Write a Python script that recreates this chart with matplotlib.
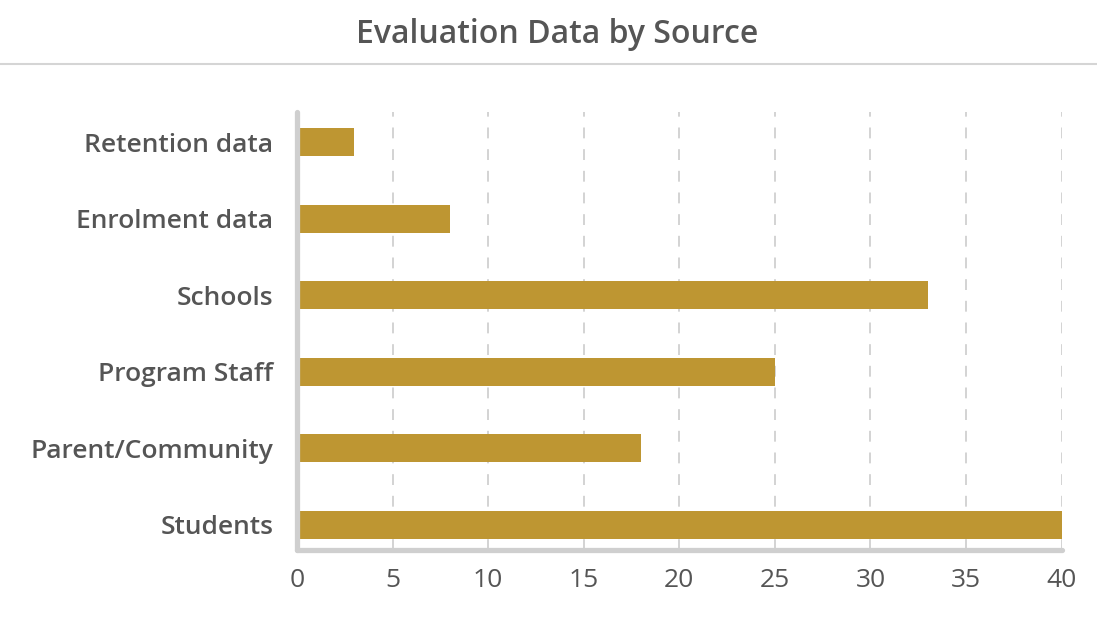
import numpy as np
import matplotlib.pyplot as plt
from matplotlib.lines import Line2D

# evaluation sources, listed top to bottom
sources = ['Retention data', 'Enrolment data', 'Schools', 'Program Staff',
           'Parent/Community', 'Students']
counts = [3, 8, 33, 25, 18, 40]
xticks = [0, 5, 10, 15, 20, 25, 30, 35, 40]

plt.rcParams['font.family'] = ['Open Sans', 'DejaVu Sans']

fig = plt.figure(figsize=(10.97, 6.19), dpi=100)
ax = fig.add_axes([0.2707, 0.1115, 0.697, 0.708])

# bottom category at y=0
ypos = np.arange(len(sources))[::-1]
ax.barh(ypos, counts, height=0.37, color='#BE9632', zorder=3)

ax.set_xlim(0, 40)
ax.set_ylim(-0.33, 5.4)
ax.set_xticks(xticks)
ax.set_yticks(ypos)
ax.set_yticklabels(sources)
ax.tick_params(axis='both', length=0, colors='#555555', labelsize=19)
ax.tick_params(axis='y', pad=17)
ax.tick_params(axis='x', pad=13)
for lbl in ax.get_yticklabels():
    lbl.set_fontweight('semibold')

# dashed vertical grid
ax.grid(axis='x', color='#d0d0d0', linestyle=(0, (6, 6)), linewidth=1.3, zorder=0)
ax.grid(axis='y', visible=False)

for s in ax.spines.values():
    s.set_visible(False)
for s in ('left', 'bottom'):
    ax.spines[s].set_visible(True)
    ax.spines[s].set_color('#cfcfcf')
    ax.spines[s].set_linewidth(3.8)
    ax.spines[s].set_capstyle('round')
    ax.spines[s].set_zorder(4)

# title and rule under it
fig.text(0.508, 0.945, 'Evaluation Data by Source', ha='center', va='center',
         fontsize=23, color='#555555', fontweight='semibold')
fig.add_artist(Line2D([0, 1], [0.896, 0.896], transform=fig.transFigure,
                      color='#d5d5d5', linewidth=1.5))

plt.savefig('out.png', dpi=100)
